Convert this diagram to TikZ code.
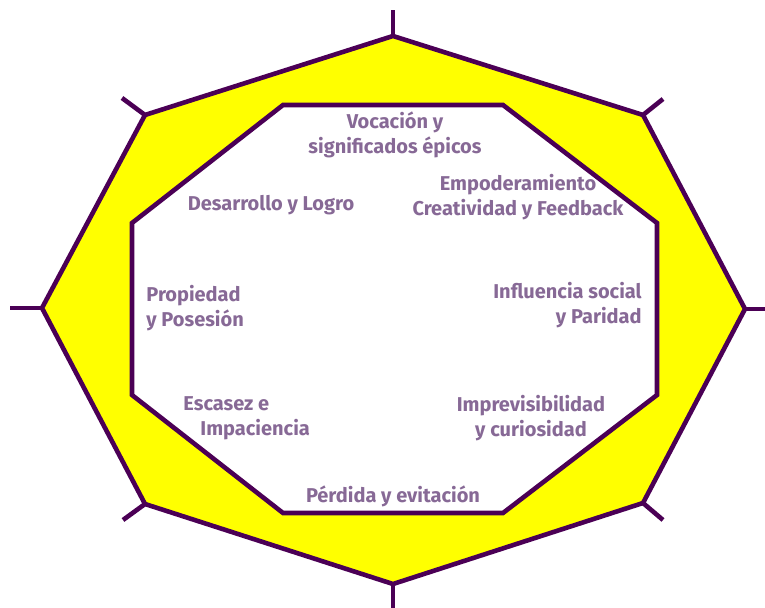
\documentclass[tikz,border=0pt]{standalone}
\usepackage{fontspec}
\setmainfont{Fira Sans}
\usetikzlibrary{positioning}
\definecolor{octline}{RGB}{75,0,85}
\definecolor{octfill}{RGB}{255,255,0}
\definecolor{labeltext}{RGB}{135,105,150}
\tikzset{octagon/.style={draw=octline, line width=2.3pt, line join=miter}}
\tikzstyle{spoke}=[draw=octline, line width=2.3pt]
\tikzstyle{motive}=[text=labeltext, font=\fontsize{10}{12.5}\selectfont\bfseries, inner sep=0pt]

\begin{document}
\begin{tikzpicture}[x=0.5pt, y=-0.5pt]
  \useasboundingbox (0,0) rectangle (765,608);

  % outer corners
  \coordinate (o1) at (393,36);
  \coordinate (o2) at (643,115);
  \coordinate (o3) at (745,309);
  \coordinate (o4) at (643,503);
  \coordinate (o5) at (393,584);
  \coordinate (o6) at (145,504);
  \coordinate (o7) at (42,308);
  \coordinate (o8) at (145,115);
  % spoke ends
  \coordinate (s1) at (393,10);
  \coordinate (s2) at (663,99);
  \coordinate (s3) at (765,309);
  \coordinate (s4) at (663,520);
  \coordinate (s5) at (393,608);
  \coordinate (s6) at (123,520);
  \coordinate (s7) at (10,308);
  \coordinate (s8) at (122,98);
  % inner corners
  \coordinate (i1) at (283,105);
  \coordinate (i2) at (503,105);
  \coordinate (i3) at (657,223);
  \coordinate (i4) at (657,395);
  \coordinate (i5) at (503,513);
  \coordinate (i6) at (283,513);
  \coordinate (i7) at (132,395);
  \coordinate (i8) at (132,223);

  \foreach \i in {1,...,8}
    \draw[spoke] (o\i) -- (s\i);
  \draw[octagon, fill=octfill] (o1) -- (o2) -- (o3) -- (o4) -- (o5) -- (o6) -- (o7) -- (o8) -- cycle;
  \draw[octagon, fill=white] (i1) -- (i2) -- (i3) -- (i4) -- (i5) -- (i6) -- (i7) -- (i8) -- cycle;

  \node[motive, align=center] (vocacion) at (395,135) {Vocación y\\significados épicos};
  \node[motive] (desarrollo) at (271,205) {Desarrollo y Logro};
  \node[motive, align=center] (empoderamiento) at (518,197) {Empoderamiento\\Creatividad y Feedback};
  \node[motive, align=left, anchor=west] (propiedad) at (146,308) {Propiedad\\y Posesión};
  \node[motive, align=right, anchor=east] (influencia) at (642,305) {Influencia social\\y Paridad};
  \node[motive, align=left, anchor=west] (escasez) at (183,418) {Escasez e\\\hspace{8.5pt}Impaciencia};
  \node[motive, align=center] (imprevisibilidad) at (531,418) {Imprevisibilidad\\y curiosidad};
  \node[motive] (perdida) at (393,496) {Pérdida y evitación};

\end{tikzpicture}
\end{document}
